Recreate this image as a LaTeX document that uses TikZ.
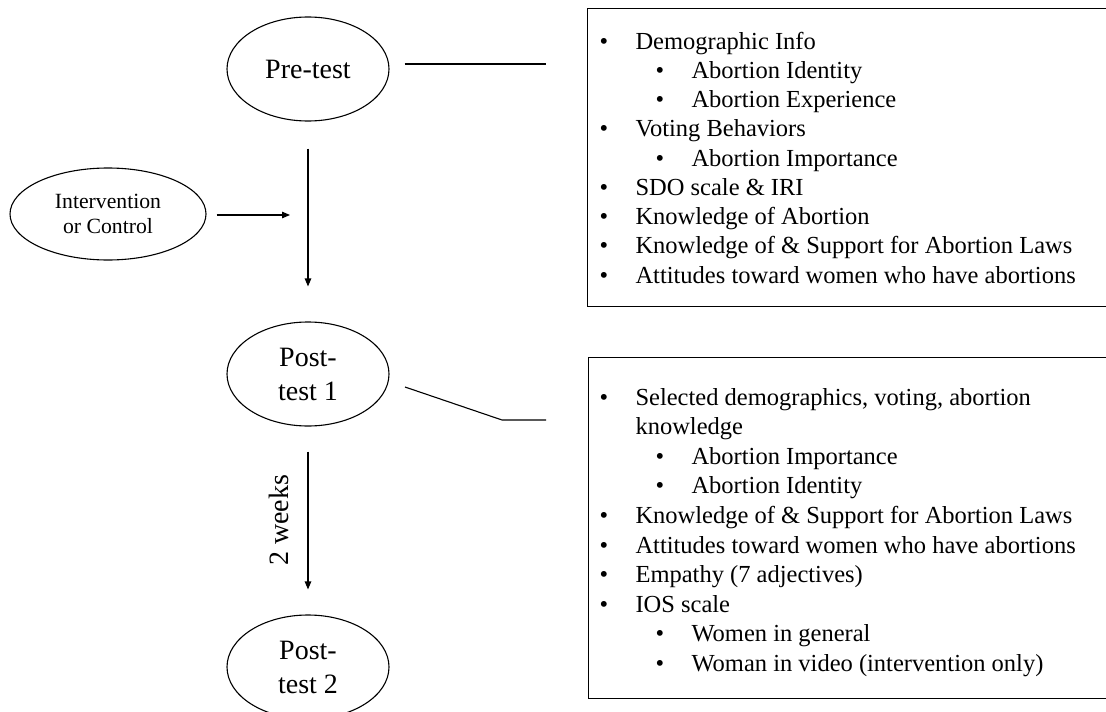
\documentclass[tikz,border=0pt]{standalone}
\usepackage{fontspec}
\setmainfont{Liberation Serif}
\usetikzlibrary{shapes.geometric,arrows.meta}
\begin{document}
\begin{tikzpicture}[x=1pt,y=-1pt,line width=1.1pt,
  stage/.style={draw,ellipse,minimum width=162pt,minimum height=104pt,inner sep=0pt,
    align=center,font=\fontsize{28}{34}\selectfont},
  listbox/.style={draw,rectangle,anchor=north west,minimum width=560pt,inner sep=0pt},
  arr/.style={-{Triangle[length=8pt,width=6.5pt]}},
  listtext/.style={anchor=base west,inner sep=0pt,font=\fontsize{24.5}{29}\selectfont},
  dot/.style={anchor=base,inner sep=0pt,font=\fontsize{24.5}{29}\selectfont},
]
\useasboundingbox (0,0) rectangle (1106,712);

% timeline of measurement points
\node[stage] (pre) at (308,69) {Pre-test};
\node[stage,minimum width=196pt,minimum height=92pt,font=\fontsize{21.7}{25}\selectfont]
  (interv) at (108,214) {Intervention\\or Control};
\node[stage] (post1) at (308,374) {Post-\\test 1};
\node[stage] (post2) at (308,667) {Post-\\test 2};

% measure lists (open to the right edge)
\node[listbox,minimum height=298pt] (box1) at (587,8) {};
\node[listbox,minimum height=341pt] (box2) at (588,357) {};

% connectors
\coordinate (joinA) at (307,215);
\draw[arr] ([yshift=-27pt]pre.south) -- ([yshift=35pt]post1.north);
\draw[arr] ([xshift=10pt]interv.east |- joinA) -- ([xshift=-17pt]joinA);
\draw[arr] ([yshift=-25pt]post1.south) -- ([yshift=25pt]post2.north)
  coordinate[midway] (gapmid);
\node[rotate=90,anchor=south,inner sep=0pt,font=\fontsize{28}{34}\selectfont]
  (gap) at ([xshift=-19pt]gapmid) {2 weeks};

\coordinate (preEnd) at (546,64);
\draw ([xshift=15pt]pre.east |- preEnd) -- (preEnd);
\coordinate (postBend) at (502,420);
\coordinate (postEnd) at (546,420);
\draw (405,387) coordinate (postStart) -- (postBend) -- (postEnd);

% first list
\foreach \yy/\lev/\name in {49/1/a1,78.25/2/a2,107.5/2/a3,136.75/1/a4,166/2/a5,
    195.25/1/a6,224.5/1/a7,253.75/1/a8,283/1/a9}{
  \ifnum\lev=1 \node[dot] (d\name) at (604,\yy) {•};
  \else \node[dot] (d\name) at (660,\yy) {•}; \fi
}
\node[listtext] (ta1) at (635,49) {Demographic Info};
\node[listtext] (ta2) at (691,78.25) {Abortion Identity};
\node[listtext] (ta3) at (691,107.5) {Abortion Experience};
\node[listtext] (ta4) at (635,136.75) {Voting Behaviors};
\node[listtext] (ta5) at (691,166) {Abortion Importance};
\node[listtext] (ta6) at (635,195.25) {SDO scale \& IRI};
\node[listtext] (ta7) at (635,224.5) {Knowledge of Abortion};
\node[listtext] (ta8) at (635,253.75) {Knowledge of \& Support for Abortion Laws};
\node[listtext] (ta9) at (635,283) {Attitudes toward women who have abortions};

% second list
\foreach \yy/\lev/\name in {405/1/b1,464.2/2/b3,493.8/2/b4,523.4/1/b5,553/1/b6,
    582.6/1/b7,612.2/1/b8,641.8/2/b9,671.4/2/b10}{
  \ifnum\lev=1 \node[dot] (d\name) at (604,\yy) {•};
  \else \node[dot] (d\name) at (660,\yy) {•}; \fi
}
\node[listtext] (tb1) at (635,405) {Selected demographics, voting, abortion};
\node[listtext] (tb2) at (635,434.6) {knowledge};
\node[listtext] (tb3) at (691,464.2) {Abortion Importance};
\node[listtext] (tb4) at (691,493.8) {Abortion Identity};
\node[listtext] (tb5) at (635,523.4) {Knowledge of \& Support for Abortion Laws};
\node[listtext] (tb6) at (635,553) {Attitudes toward women who have abortions};
\node[listtext] (tb7) at (635,582.6) {Empathy (7 adjectives)};
\node[listtext] (tb8) at (635,612.2) {IOS scale};
\node[listtext] (tb9) at (691,641.8) {Women in general};
\node[listtext] (tb10) at (691,671.4) {Woman in video (intervention only)};
\end{tikzpicture}
\end{document}
